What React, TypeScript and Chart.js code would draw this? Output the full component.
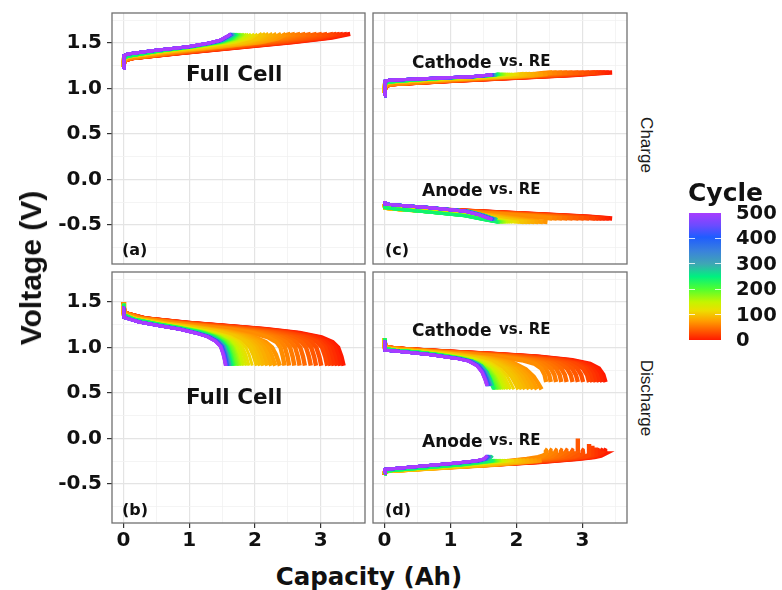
import React, { useEffect, useRef } from "react";
import { Chart, registerables } from "chart.js";
Chart.register(...registerables);

// ---------- data ----------
const CYCLES = [
  0, 5, 10, 15, 20, 25, 30, 35, 40, 45, 50, 55, 60, 65, 70, 75, 80, 85, 90, 95, 100,
  110, 120, 130, 140, 150, 160, 170, 180, 190, 200, 210, 220, 230, 240, 250, 260, 270, 280, 290, 300,
  310, 320, 330, 340, 350, 360, 370, 380, 390, 400, 410, 420, 430, 440, 450, 460, 470, 480, 490, 500,
];
// discharge capacity (Ah) per cycle
const DIS_CAP = [
  3.35, 3.3, 3.25, 3.2, 3.15, 3.1, 3.01, 2.93, 2.85, 2.76, 2.68, 2.6, 2.52, 2.45, 2.38, 2.31, 2.25, 2.19, 2.13, 2.08, 2.03,
  1.96, 1.91, 1.87, 1.83, 1.8, 1.77, 1.75, 1.73, 1.71, 1.69, 1.68, 1.67, 1.66, 1.65, 1.64, 1.63, 1.625, 1.62, 1.615, 1.61,
  1.605, 1.6, 1.598, 1.595, 1.59, 1.588, 1.585, 1.58, 1.578, 1.575, 1.572, 1.57, 1.568, 1.565, 1.562, 1.56, 1.558, 1.555, 1.553, 1.55,
];
// charge capacity (Ah) per cycle
const CHG_CAP = [
  3.45, 3.4, 3.34, 3.29, 3.24, 3.19, 3.1, 3.02, 2.94, 2.85, 2.77, 2.69, 2.61, 2.54, 2.47, 2.4, 2.33, 2.27, 2.21, 2.16, 2.11,
  2.04, 1.99, 1.94, 1.9, 1.87, 1.84, 1.82, 1.8, 1.78, 1.76, 1.75, 1.74, 1.73, 1.72, 1.71, 1.7, 1.695, 1.69, 1.685, 1.68,
  1.675, 1.67, 1.667, 1.664, 1.66, 1.657, 1.654, 1.65, 1.648, 1.646, 1.644, 1.642, 1.64, 1.638, 1.636, 1.634, 1.633, 1.632, 1.631, 1.63,
];

// voltage profiles: [fraction of that cycle's capacity, voltage], for fresh / mid-life / aged cycles
type Pt = [number, number];
const FULL_CHG: Pt[][] = [
  [[0, 1.24], [0.004, 1.31], [0.04, 1.335], [0.25, 1.39], [0.5, 1.45], [0.75, 1.51], [0.92, 1.56], [1, 1.6]],
  [[0, 1.24], [0.004, 1.33], [0.04, 1.355], [0.3, 1.41], [0.6, 1.46], [0.85, 1.51], [0.95, 1.55], [1, 1.6]],
  [[0, 1.22], [0.004, 1.36], [0.04, 1.38], [0.3, 1.42], [0.6, 1.46], [0.8, 1.5], [0.9, 1.53], [0.96, 1.57], [1, 1.6]],
];
const FULL_DIS: Pt[][] = [
  [[0, 1.5], [0.003, 1.38], [0.1, 1.32], [0.3, 1.27], [0.5, 1.23], [0.65, 1.2], [0.8, 1.16], [0.9, 1.11], [0.95, 1.06], [0.975, 1.0], [0.99, 0.9], [1, 0.8]],
  [[0, 1.48], [0.004, 1.36], [0.1, 1.31], [0.3, 1.26], [0.5, 1.22], [0.7, 1.17], [0.83, 1.12], [0.91, 1.06], [0.95, 1.0], [0.975, 0.92], [1, 0.8]],
  [[0, 1.45], [0.005, 1.33], [0.15, 1.28], [0.35, 1.24], [0.55, 1.2], [0.7, 1.16], [0.82, 1.12], [0.9, 1.07], [0.95, 1.01], [0.975, 0.93], [0.99, 0.86], [1, 0.8]],
];
const CATH_CHG: Pt[][] = [
  [[0, 0.96], [0.004, 1.03], [0.04, 1.05], [0.3, 1.085], [0.6, 1.12], [0.85, 1.15], [0.95, 1.17], [1, 1.175]],
  [[0, 0.95], [0.004, 1.055], [0.04, 1.07], [0.3, 1.095], [0.7, 1.125], [0.9, 1.14], [1, 1.16]],
  [[0, 0.92], [0.004, 1.08], [0.04, 1.09], [0.4, 1.11], [0.8, 1.13], [1, 1.15]],
];
const AN_CHG: Pt[][] = [
  [[0, -0.27], [0.004, -0.3], [0.1, -0.315], [0.4, -0.35], [0.7, -0.385], [0.9, -0.41], [1, -0.43]],
  [[0, -0.27], [0.004, -0.31], [0.1, -0.325], [0.4, -0.36], [0.7, -0.4], [0.9, -0.45], [1, -0.47]],
  [[0, -0.24], [0.004, -0.27], [0.1, -0.28], [0.4, -0.31], [0.75, -0.35], [0.88, -0.39], [0.95, -0.42], [1, -0.44]],
];
const CATH_DIS: Pt[][] = [
  [[0, 1.1], [0.003, 1.0], [0.1, 0.98], [0.3, 0.955], [0.5, 0.93], [0.7, 0.9], [0.85, 0.86], [0.93, 0.82], [0.97, 0.77], [0.99, 0.7], [1, 0.62]],
  [[0, 1.1], [0.004, 0.99], [0.1, 0.97], [0.3, 0.95], [0.5, 0.92], [0.7, 0.88], [0.82, 0.83], [0.9, 0.76], [0.95, 0.68], [0.98, 0.6], [1, 0.54]],
  [[0, 1.08], [0.005, 0.97], [0.2, 0.95], [0.45, 0.92], [0.7, 0.88], [0.82, 0.85], [0.9, 0.8], [0.95, 0.73], [0.98, 0.65], [1, 0.58]],
];
const AN_DIS: Pt[][] = [
  [[0, -0.4], [0.004, -0.36], [0.1, -0.34], [0.4, -0.3], [0.7, -0.26], [0.88, -0.225], [0.95, -0.205], [0.98, -0.19], [1, -0.165], [0.998, -0.13], [0.99, -0.12]],
  [[0, -0.39], [0.004, -0.36], [0.1, -0.35], [0.4, -0.32], [0.7, -0.29], [0.9, -0.26], [0.97, -0.25], [1, -0.24]],
  [[0, -0.38], [0.004, -0.34], [0.1, -0.33], [0.4, -0.3], [0.7, -0.27], [0.9, -0.245], [0.97, -0.225], [1, -0.19]],
];
const GROUP_EDGES = [70, 250];
const SPIKE_CYCLES = [35, 25, 20, 15];
const SPIKE_TOPS = [0.0, -0.06, -0.08, -0.1];

const X_GRID = [0, 0.5, 1, 1.5, 2, 2.5, 3, 3.5];
const X_MAJOR = [0, 1, 2, 3];
const Y_GRID = [-0.75, -0.5, -0.25, 0, 0.25, 0.5, 0.75, 1, 1.25, 1.5, 1.75];
const Y_MAJOR = [-0.5, 0, 0.5, 1, 1.5];
const X_MIN = -0.175, X_MAX = 3.675, Y_MIN = -0.93, Y_MAX = 1.83;

const LEGEND_TICKS = [0, 100, 200, 300, 400, 500];
const CMAP_STOPS = [0, 40, 75, 115, 150, 200, 250, 300, 350, 405, 450, 500];
const CMAP_COLORS = ["#FF1A00", "#FF6000", "#FF9E00", "#EEDD00", "#C4F500", "#50FF30", "#00F080", "#3FA6B4", "#3A82DC", "#1F5CFF", "#6A4CFF", "#A83CFF"];

// ---------- helpers ----------
const BOLD = "'DejaVu Sans', Verdana, sans-serif";
const PLAIN = "'Liberation Sans', Arial, sans-serif";
const hexToRgb = (h: string) => { const n = parseInt(h.slice(1), 16); return [(n >> 16) & 255, (n >> 8) & 255, n & 255]; };
function cycleColor(c: number) {
  let i = 0;
  while (i < CMAP_STOPS.length - 2 && c > CMAP_STOPS[i + 1]) i++;
  const t = (c - CMAP_STOPS[i]) / (CMAP_STOPS[i + 1] - CMAP_STOPS[i]);
  const a = hexToRgb(CMAP_COLORS[i]), b = hexToRgb(CMAP_COLORS[i + 1]);
  const m = a.map((v, k) => Math.round(v + (b[k] - v) * t));
  return `rgb(${m[0]},${m[1]},${m[2]})`;
}
const groupOf = (c: number) => (c < GROUP_EDGES[0] ? 0 : c < GROUP_EDGES[1] ? 1 : 2);
const toXY = (tpl: Pt[], cap: number) => tpl.map(([f, v]) => ({ x: f * cap, y: v }));
const near = (v: number, arr: number[]) => arr.some((m) => Math.abs(m - v) < 1e-6);

type Curve = (cycle: number, idx: number) => { x: number; y: number }[];
const curveFrom = (tpls: Pt[][], caps: number[]): Curve => (c, i) => toXY(tpls[groupOf(c)], caps[i]);
const anodeDisCurve: Curve = (c, i) => {
  const s = SPIKE_CYCLES.indexOf(c);
  if (s < 0) return toXY(AN_DIS[groupOf(c)], DIS_CAP[i]);
  const base = AN_DIS[0].filter(([f]) => f <= 0.95);
  return toXY([...base, [0.985, -0.195], [1, -0.18], [1, SPIKE_TOPS[s]]] as Pt[], DIS_CAP[i]);
};

const framePlugin = {
  id: "frame",
  afterDraw(chart: any) {
    const { ctx, chartArea: a } = chart;
    ctx.save();
    ctx.strokeStyle = "#707070";
    ctx.lineWidth = 1.3;
    ctx.strokeRect(a.left, a.top, a.right - a.left, a.bottom - a.top);
    ctx.restore();
  },
};

type Rect = { l: number; t: number; r: number; b: number };

function Panel({ rect, col, row, curves }: { rect: Rect; col: number; row: number; curves: Curve[] }) {
  const ref = useRef<HTMLCanvasElement>(null);
  const left = col === 0 ? 0 : rect.l - 2;
  const top = rect.t - 2;
  const yW = col === 0 ? rect.l : 0;
  const xH = row === 1 ? 36 : 0;
  const w = rect.r + 2 - left;
  const h = rect.b - rect.t + 2 + (row === 1 ? xH : 2);
  useEffect(() => {
    const datasets: any[] = [];
    for (let i = CYCLES.length - 1; i >= 0; i--) {
      const c = CYCLES[i];
      for (const cv of curves) {
        datasets.push({
          data: cv(c, i),
          showLine: true,
          borderColor: cycleColor(c),
          borderWidth: c <= 100 ? 4.4 : 3,
          pointRadius: 0,
          fill: false,
          tension: 0,
        });
      }
    }
    const tickFont = { family: BOLD, weight: "bold" as const, size: 20 };
    const chart = new Chart(ref.current as HTMLCanvasElement, {
      type: "scatter",
      data: { datasets },
      options: {
        animation: false,
        responsive: false,
        events: [],
        layout: { padding: { left: col === 0 ? 0 : 2, top: 2, right: 2, bottom: row === 1 ? 0 : 2 } },
        plugins: { legend: { display: false }, tooltip: { enabled: false } },
        scales: {
          x: {
            type: "linear",
            min: X_MIN,
            max: X_MAX,
            afterBuildTicks: (s: any) => { s.ticks = X_GRID.map((v) => ({ value: v })); },
            afterFit: (s: any) => { s.height = xH; s.paddingLeft = 0; s.paddingRight = 0; s.paddingTop = 0; s.paddingBottom = 0; },
            border: { display: false },
            grid: {
              color: (ctx: any) => (near(ctx.tick?.value, X_MAJOR) ? "#E4E4E4" : "#F1F1F1"),
              lineWidth: (ctx: any) => (near(ctx.tick?.value, X_MAJOR) ? 1.2 : 0.8),
              drawTicks: row === 1,
              tickLength: 5,
              tickColor: (ctx: any) => (near(ctx.tick?.value, X_MAJOR) ? "#333333" : "rgba(0,0,0,0)"),
              tickWidth: 1.2,
            },
            ticks: {
              display: row === 1,
              autoSkip: false,
              maxRotation: 0,
              padding: 1,
              color: "#111111",
              font: tickFont,
              callback: (v: any) => (near(Number(v), X_MAJOR) ? String(v) : ""),
            },
          },
          y: {
            type: "linear",
            min: Y_MIN,
            max: Y_MAX,
            afterBuildTicks: (s: any) => { s.ticks = Y_GRID.map((v) => ({ value: v })); },
            afterFit: (s: any) => { s.width = yW; s.paddingLeft = 0; s.paddingRight = 0; s.paddingTop = 0; s.paddingBottom = 0; },
            border: { display: false },
            grid: {
              color: (ctx: any) => (near(ctx.tick?.value, Y_MAJOR) ? "#E4E4E4" : "#F1F1F1"),
              lineWidth: (ctx: any) => (near(ctx.tick?.value, Y_MAJOR) ? 1.2 : 0.8),
              drawTicks: col === 0,
              tickLength: 5,
              tickColor: (ctx: any) => (near(ctx.tick?.value, Y_MAJOR) ? "#333333" : "rgba(0,0,0,0)"),
              tickWidth: 1.2,
            },
            ticks: {
              display: col === 0,
              autoSkip: false,
              padding: 5,
              color: "#111111",
              font: tickFont,
              callback: (v: any) => (near(Number(v), Y_MAJOR) ? Number(v).toFixed(1) : ""),
            },
          },
        },
      },
      plugins: [framePlugin],
    });
    return () => chart.destroy();
  }, []);
  return <canvas ref={ref} width={w} height={h} style={{ position: "absolute", left, top, width: w, height: h }} />;
}

function Txt({ x, y, size, text, center = false }: any) {
  return (
    <div
      style={{
        position: "absolute",
        left: x,
        top: y,
        fontFamily: BOLD,
        fontWeight: 700,
        fontSize: size,
        color: "#111",
        whiteSpace: "nowrap",
        lineHeight: 1,
        transform: `translate(${center ? "-50%" : "0"}, -50%)`,
      }}
    >
      {text}
    </div>
  );
}

export default function App() {
  const A: Rect = { l: 112, t: 13, r: 365, b: 264 };
  const C: Rect = { l: 373, t: 13, r: 627, b: 264 };
  const B: Rect = { l: 112, t: 272, r: 365, b: 523 };
  const D: Rect = { l: 373, t: 272, r: 627, b: 523 };
  const barTop = 213, barBot = 340;
  const gradient = CMAP_STOPS.map((s, i) => `${CMAP_COLORS[i]} ${(s / 500) * 100}%`).join(", ");
  return (
    <div style={{ position: "absolute", left: 0, top: 0, width: 782, height: 590, background: "#fff", overflow: "hidden" }}>
      <Panel rect={A} col={0} row={0} curves={[curveFrom(FULL_CHG, CHG_CAP)]} />
      <Panel rect={C} col={1} row={0} curves={[curveFrom(CATH_CHG, CHG_CAP), curveFrom(AN_CHG, CHG_CAP)]} />
      <Panel rect={B} col={0} row={1} curves={[curveFrom(FULL_DIS, DIS_CAP)]} />
      <Panel rect={D} col={1} row={1} curves={[curveFrom(CATH_DIS, DIS_CAP), anodeDisCurve]} />

      <Txt x={186} y={74} size={21.5} text="Full Cell" />
      <Txt x={186} y={397} size={21.5} text="Full Cell" />
      <Txt x={122} y={250} size={16} text="(a)" />
      <Txt x={122} y={510} size={16} text="(b)" />
      <Txt x={385} y={250} size={16} text="(c)" />
      <Txt x={385} y={510} size={16} text="(d)" />
      <Txt x={412} y={62} size={17} text="Cathode" />
      <Txt x={499} y={61} size={15} text="vs. RE" />
      <Txt x={422} y={190} size={17} text="Anode" />
      <Txt x={489} y={189} size={15} text="vs. RE" />
      <Txt x={412} y={330} size={17} text="Cathode" />
      <Txt x={499} y={329} size={15} text="vs. RE" />
      <Txt x={422} y={441} size={17} text="Anode" />
      <Txt x={489} y={440} size={15} text="vs. RE" />

      <div style={{ position: "absolute", left: 31, top: 268, transform: "translate(-50%, -50%) rotate(-90deg)", fontFamily: PLAIN, fontWeight: 700, fontSize: 30, whiteSpace: "nowrap", color: "#111", lineHeight: 1 }}>
        Voltage (V)
      </div>
      <Txt x={369} y={577} size={24.5} text="Capacity (Ah)" center />

      <div style={{ position: "absolute", left: 646, top: 145, transform: "translate(-50%, -50%) rotate(90deg)", fontFamily: PLAIN, fontSize: 17, whiteSpace: "nowrap", color: "#1a1a1a", lineHeight: 1 }}>
        Charge
      </div>
      <div style={{ position: "absolute", left: 646, top: 398, transform: "translate(-50%, -50%) rotate(90deg)", fontFamily: PLAIN, fontSize: 17, whiteSpace: "nowrap", color: "#1a1a1a", lineHeight: 1 }}>
        Discharge
      </div>

      <Txt x={688} y={192} size={25} text="Cycle" />
      <div style={{ position: "absolute", left: 689, top: barTop, width: 32, height: barBot - barTop, background: `linear-gradient(to top, ${gradient})` }} />
      {LEGEND_TICKS.map((v) => {
        const y = barBot - (v / 500) * (barBot - barTop);
        return (
          <React.Fragment key={v}>
            {v > 0 && v < 500 && (
              <>
                <div style={{ position: "absolute", left: 689, top: y - 0.5, width: 6, height: 1, background: "rgba(255,255,255,0.8)" }} />
                <div style={{ position: "absolute", left: 715, top: y - 0.5, width: 6, height: 1, background: "rgba(255,255,255,0.8)" }} />
              </>
            )}
            <Txt x={736} y={y} size={19.5} text={String(v)} />
          </React.Fragment>
        );
      })}
    </div>
  );
}
